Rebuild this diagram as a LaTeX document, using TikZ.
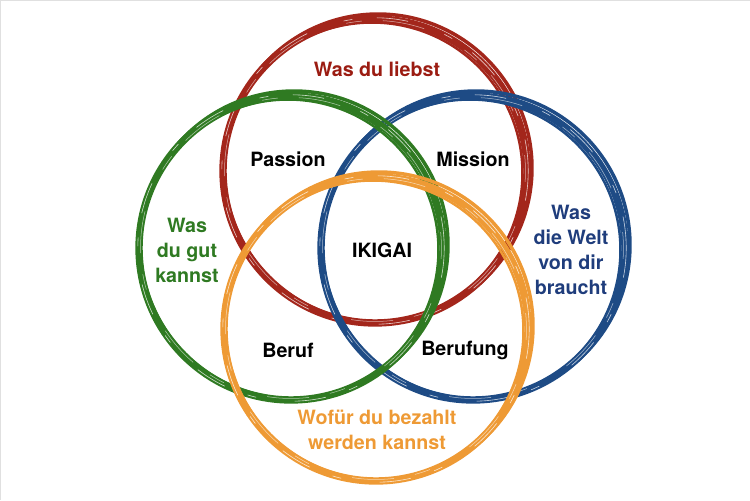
\documentclass[tikz,border=0pt]{standalone}
\usepackage{fontspec}
\setmainfont{TeX Gyre Heros}
\definecolor{ringred}{HTML}{A3261B}
\definecolor{ringgreen}{HTML}{2F7A22}
\definecolor{ringblue}{HTML}{1E4B85}
\definecolor{ringorange}{HTML}{EE9A35}
\definecolor{textred}{HTML}{9B1C12}
\definecolor{textblue}{HTML}{1F3D7C}
\def\ringr{3.04cm}
\newcommand{\brushring}[2]{%
	\draw[#2, line width=4.2pt] (#1) circle [radius=\ringr];
	\draw[#2, line width=2pt] ([shift={(3,-3)}]#1) circle [radius=\ringr+0.04cm];
	\draw[#2, line width=1.4pt] ([shift={(-3,2)}]#1) circle [radius=\ringr-0.03cm];
	\draw[white, line width=0.35pt, opacity=0.75, dash pattern=on 18pt off 14pt on 5pt off 22pt] (#1) circle [radius=\ringr+0.025cm];
	\draw[white, line width=0.3pt, opacity=0.6, dash pattern=on 9pt off 26pt on 24pt off 12pt] (#1) circle [radius=\ringr-0.03cm];
}
\tikzset{
	lbl/.style = {font=\fontsize{11.2}{14.2}\selectfont\bfseries, inner sep=0pt, align=center}
}
\begin{document}
\begin{tikzpicture}[x=0.02cm, y=-0.02cm]
		\useasboundingbox (0,0) rectangle (750,500);
		\draw[black!12, line width=0.6pt] (0,0.5) -- (750,0.5);
		\draw[black!12, line width=0.6pt] (0.5,0) -- (0.5,500);
		\coordinate (red) at (375,171);
		\coordinate (green) at (291,248);
		\coordinate (blue) at (473,248);
		\coordinate (orange) at (376,329);
		\brushring{red}{ringred}
		\brushring{blue}{ringblue}
		\brushring{green}{ringgreen}
		\brushring{orange}{ringorange}
		\node[lbl, textred] (liebst) at (377,69) {Was du liebst};
		\node[lbl, ringgreen] (gut) at (187,250) {Was\\du gut\\kannst};
		\node[lbl, textblue] (welt) at (571,250) {Was\\die Welt\\von dir\\braucht};
		\node[lbl, ringorange] (bezahlt) at (377,430) {Wofür du bezahlt\\werden kannst};
		\node[lbl] (passion) at (288,159) {Passion};
		\node[lbl] (mission) at (473,159) {Mission};
		\node[lbl] (ikigai) at (382,250) {IKIGAI};
		\node[lbl] (beruf) at (288,350) {Beruf};
		\node[lbl] (berufung) at (465,350) {Berufung};
	\end{tikzpicture}
\end{document}
